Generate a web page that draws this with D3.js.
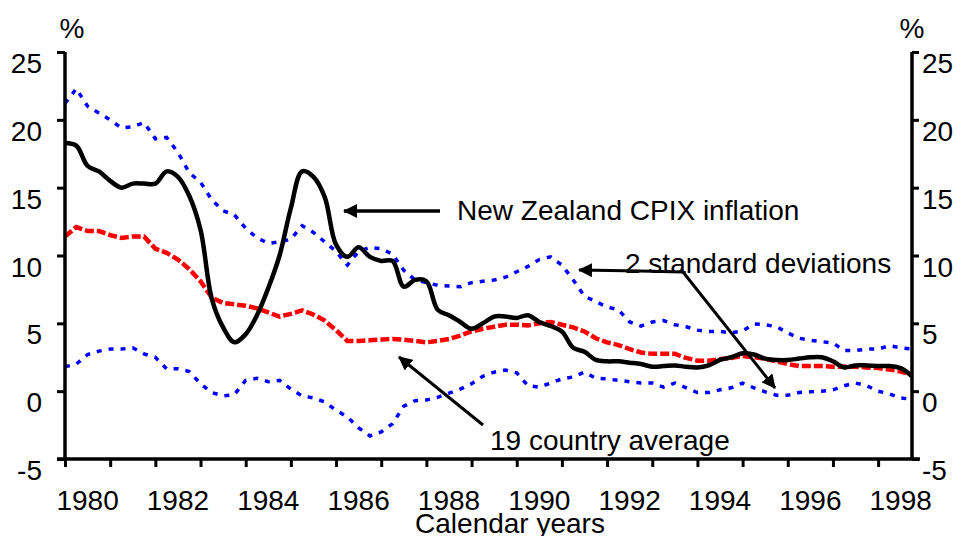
<!DOCTYPE html>
<html>
<head>
<meta charset="utf-8">
<script src="https://cdn.jsdelivr.net/npm/d3@7"></script>
<style>
	body { margin: 0; background: #fff; }
	text { font-family: "Liberation Sans", Arial, sans-serif; fill: #000; }
</style>
</head>
<body>
<svg id="chart" width="967" height="536"></svg>
<script>
// quarterly, 1980 Q1 .. 1998 Q4
var startYear = 1980;
var years = [1980, 1981, 1982, 1983, 1984, 1985, 1986, 1987, 1988, 1989, 1990, 1991, 1992, 1993, 1994, 1995, 1996, 1997, 1998];
var yearLabels = [1980, 1982, 1984, 1986, 1988, 1990, 1992, 1994, 1996, 1998];
var yTicks = [-5, 0, 5, 10, 15, 20, 25];

var nzCpix = [18.3, 18.1, 16.6, 16.2, 15.5, 15.0, 15.3, 15.3, 15.3, 16.2, 15.8, 14.4,
	11.9, 6.8, 4.7, 3.6, 4.2, 5.6, 7.6, 10.0, 13.5, 16.2, 15.8, 14.3,
	10.8, 9.9, 10.6, 9.9, 9.6, 9.6, 7.7, 8.2, 8.1, 6.0, 5.6, 5.1,
	4.6, 5.0, 5.5, 5.5, 5.4, 5.6, 5.1, 4.8, 4.4, 3.2, 2.9, 2.3,
	2.2, 2.2, 2.1, 2.0, 1.8, 1.85, 1.9, 1.8, 1.75, 1.9, 2.3, 2.5,
	2.8, 2.7, 2.4, 2.3, 2.3, 2.4, 2.5, 2.5, 2.2, 1.75, 1.9, 1.9,
	1.85, 1.85, 1.7, 1.1];

var avg19 = [11.4, 12.1, 11.8, 11.8, 11.5, 11.3, 11.4, 11.4, 10.5, 10.2, 9.7, 9.0,
	8.1, 6.9, 6.5, 6.4, 6.3, 6.1, 5.8, 5.5, 5.7, 5.95, 5.65, 5.2,
	4.5, 3.7, 3.7, 3.75, 3.8, 3.85, 3.8, 3.7, 3.6, 3.7, 3.85, 4.1,
	4.4, 4.6, 4.75, 4.9, 4.9, 4.85, 5.0, 5.1, 4.9, 4.7, 4.4, 3.9,
	3.6, 3.4, 3.1, 2.85, 2.75, 2.75, 2.75, 2.45, 2.25, 2.25, 2.35, 2.45,
	2.6, 2.5, 2.4, 2.2, 2.0, 1.85, 1.85, 1.85, 1.8, 1.8, 1.8, 1.75,
	1.7, 1.6, 1.45, 1.2];

var upperBand = [21.2, 22.3, 21.0, 20.5, 20.0, 19.4, 19.5, 19.8, 18.6, 18.7, 17.6, 16.1,
	15.4, 14.1, 13.3, 13.0, 12.0, 11.3, 10.9, 11.0, 11.2, 12.2, 11.7, 11.0,
	10.3, 9.3, 10.3, 10.6, 10.5, 10.1, 8.9, 8.2, 8.0, 7.8, 7.75, 7.7,
	8.0, 8.1, 8.2, 8.4, 8.8, 9.2, 9.7, 9.9, 9.3, 8.2, 7.0, 6.6,
	6.2, 6.0, 5.1, 4.8, 5.1, 5.2, 4.9, 4.75, 4.5, 4.4, 4.4, 4.3,
	4.45, 4.95, 4.9, 4.75, 4.3, 3.9, 3.75, 3.65, 3.55, 3.0, 3.0, 3.1,
	3.1, 3.35, 3.2, 3.1];

var lowerBand = [1.8, 2.0, 2.7, 2.95, 3.1, 3.1, 3.2, 2.75, 2.5, 1.65, 1.65, 1.45,
	0.55, -0.1, -0.35, -0.25, 0.8, 0.95, 0.7, 0.8, 0.15, -0.35, -0.5, -0.8,
	-1.4, -1.9, -2.7, -3.3, -3.0, -2.4, -1.1, -0.7, -0.65, -0.45, -0.15, 0.15,
	0.55, 1.1, 1.4, 1.55, 1.35, 0.4, 0.3, 0.6, 0.9, 1.05, 1.4, 0.95,
	0.9, 0.8, 0.7, 0.6, 0.6, 0.3, 0.6, 0.25, -0.1, -0.1, 0.1, 0.25,
	0.6, 0.25, -0.05, -0.3, -0.3, -0.1, -0.05, 0.0, 0.1, 0.4, 0.6, 0.4,
	0.0, -0.2, -0.5, -0.6];

var svg = d3.select('#chart');

var x = d3.scaleLinear().domain([1980, 1998.75]).range([65, 912]);
var y = d3.scaleLinear().domain([-5, 25]).range([459, 52]);

function quarter(i) {
	return startYear + i * 0.25;
}

// markers
svg.append('defs').append('marker')
	.attr('id', 'head')
	.attr('markerUnits', 'userSpaceOnUse')
	.attr('viewBox', '0 0 14 14')
	.attr('refX', 13)
	.attr('refY', 7)
	.attr('markerWidth', 14)
	.attr('markerHeight', 14)
	.attr('orient', 'auto')
	.append('path')
	.attr('d', 'M0,0 L14,7 L0,14 Z')
	.attr('fill', '#000');

// series
function drawSeries(values, color, width, dash, curve) {
	var line = d3.line()
		.x(function (d, i) { return x(quarter(i)); })
		.y(function (d) { return y(d); })
		.curve(curve);

	svg.append('path')
		.datum(values)
		.attr('d', line)
		.attr('fill', 'none')
		.attr('stroke', color)
		.attr('stroke-width', width)
		.attr('stroke-dasharray', dash);
}

drawSeries(upperBand, '#0000ff', 3.5, '5,7', d3.curveLinear);
drawSeries(lowerBand, '#0000ff', 3.5, '5,7', d3.curveLinear);
drawSeries(avg19, '#ff0000', 4.5, '9,3', d3.curveLinear);
drawSeries(nzCpix, '#000', 4.5, null, d3.curveCatmullRom);

// axes
var left = svg.append('g').attr('transform', 'translate(65,0)')
	.call(d3.axisLeft(y).tickValues(yTicks).tickSize(8).tickFormat(''));
var right = svg.append('g').attr('transform', 'translate(912,0)')
	.call(d3.axisRight(y).tickValues(yTicks).tickSize(7).tickFormat(''));
var bottom = svg.append('g').attr('transform', 'translate(0,459)')
	.call(d3.axisBottom(x).tickValues(years).tickSize(8).tickFormat(''));

[left, right, bottom].forEach(function (g) {
	g.select('.domain').remove();
	g.selectAll('line').attr('stroke', '#000').attr('stroke-width', 3);
});

svg.append('line')
	.attr('x1', 65).attr('x2', 65).attr('y1', y(25)).attr('y2', y(-5))
	.attr('stroke', '#000').attr('stroke-width', 3.5);
svg.append('line')
	.attr('x1', 912).attr('x2', 912).attr('y1', y(25)).attr('y2', y(-5))
	.attr('stroke', '#000').attr('stroke-width', 3.5);
svg.append('line')
	.attr('x1', 57).attr('x2', 920).attr('y1', y(-5)).attr('y2', y(-5))
	.attr('stroke', '#000').attr('stroke-width', 3.5);

svg.selectAll('.ylabel-left')
	.data(yTicks)
	.enter().append('text')
	.attr('x', 42)
	.attr('y', function (d) { return y(d) + 21; })
	.attr('text-anchor', 'end')
	.attr('font-size', 28)
	.text(function (d) { return d; });

svg.selectAll('.ylabel-right')
	.data(yTicks)
	.enter().append('text')
	.attr('x', 922)
	.attr('y', function (d) { return y(d) + 21; })
	.attr('font-size', 28)
	.text(function (d) { return d; });

svg.selectAll('.xlabel')
	.data(yearLabels)
	.enter().append('text')
	.attr('x', function (d) { return x(d + 0.5); })
	.attr('y', 510)
	.attr('text-anchor', 'middle')
	.attr('font-size', 28)
	.text(function (d) { return d; });

svg.append('text').attr('x', 510).attr('y', 533).attr('text-anchor', 'middle')
	.attr('font-size', 28).text('Calendar years');
svg.append('text').attr('x', 72).attr('y', 38).attr('text-anchor', 'middle')
	.attr('font-size', 28).text('%');
svg.append('text').attr('x', 912).attr('y', 38).attr('text-anchor', 'middle')
	.attr('font-size', 28).text('%');

// annotations
function arrow(x1, y1, x2, y2, w) {
	svg.append('line')
		.attr('x1', x1).attr('y1', y1).attr('x2', x2).attr('y2', y2)
		.attr('stroke', '#000').attr('stroke-width', w)
		.attr('marker-end', 'url(#head)');
}

arrow(440, 211, 344, 211, 3.5);
svg.append('text').attr('x', 457).attr('y', 220).attr('font-size', 28).text('New Zealand CPIX inflation');

svg.append('line').attr('x1', 640).attr('y1', 271).attr('x2', 683).attr('y2', 272)
	.attr('stroke', '#000').attr('stroke-width', 3);
arrow(640, 271, 579, 270, 3);
arrow(683, 272, 775, 388, 3);
svg.append('text').attr('x', 625).attr('y', 273).attr('font-size', 28).text('2 standard deviations');

arrow(483, 425, 399, 357, 3);
svg.append('text').attr('x', 490).attr('y', 450).attr('font-size', 28).text('19 country average');
</script>
</body>
</html>
